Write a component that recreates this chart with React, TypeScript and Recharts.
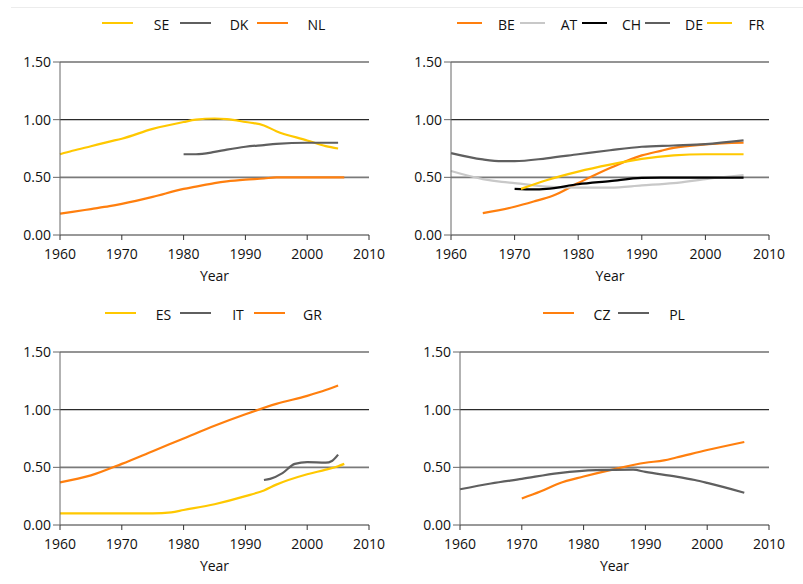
import React from 'react'
import { LineChart, Line, XAxis, YAxis, ReferenceLine, Legend } from 'recharts'

const YEAR_TICKS = [1960, 1970, 1980, 1990, 2000, 2010]
const VALUE_TICKS = [0, 0.5, 1, 1.5]

// top left: SE, DK, NL
const yearsNorth = [1960, 1962, 1965, 1968, 1970, 1975, 1980, 1982, 1985, 1987, 1990, 1993, 1995, 2000, 2003, 2005, 2006]
const seValues = [0.7, 0.73, 0.77, 0.81, 0.835, 0.92, 0.98, 1.0, 1.01, 1.005, 0.98, 0.95, 0.9, 0.82, 0.77, 0.75, null]
const dkValues = [null, null, null, null, null, null, 0.7, 0.7, 0.72, 0.74, 0.765, 0.78, 0.79, 0.8, 0.8, 0.8, null]
const nlValues = [0.185, 0.2, 0.225, 0.25, 0.27, 0.33, 0.4, 0.42, 0.45, 0.465, 0.48, 0.49, 0.5, 0.5, 0.5, 0.5, 0.5]

// top right: BE, AT, CH, DE, FR
const yearsWest = [1960, 1965, 1968, 1970, 1971, 1973, 1975, 1976, 1980, 1985, 1990, 1993, 1995, 2000, 2006]
const beValues = [null, 0.19, null, 0.245, null, 0.29, null, 0.34, 0.45, 0.58, 0.69, 0.73, 0.755, 0.785, 0.8]
const atValues = [0.555, 0.485, 0.46, 0.45, null, null, 0.42, null, 0.41, 0.41, 0.43, null, 0.45, 0.485, 0.52]
const chValues = [null, null, null, 0.4, null, 0.395, 0.4, null, 0.44, 0.467, 0.495, 0.497, 0.497, 0.497, 0.497]
const deValues = [0.71, 0.655, 0.64, 0.64, null, null, 0.665, null, 0.7, 0.735, 0.765, null, 0.776, 0.788, 0.82]
const frValues = [null, null, null, null, 0.4, null, 0.475, null, 0.55, 0.61, 0.66, null, 0.69, 0.7, 0.7]

// bottom left: ES, IT, GR
const yearsSouth = [1960, 1965, 1970, 1975, 1978, 1980, 1985, 1990, 1993, 1994, 1995, 1996, 1998, 2000, 2003, 2004, 2005, 2006]
const esValues = [0.1, 0.1, 0.1, 0.1, 0.11, 0.13, 0.18, 0.25, 0.3, null, 0.35, null, null, 0.44, 0.48, null, 0.51, 0.53]
const itValues = [null, null, null, null, null, null, null, null, 0.39, 0.4, null, 0.45, 0.53, 0.545, 0.54, 0.555, 0.61, null]
const grValues = [0.37, 0.43, 0.53, 0.64, null, 0.75, 0.86, 0.96, null, null, 1.05, null, null, 1.12, 1.17, null, 1.21, null]

// bottom right: CZ, PL
const yearsEast = [1960, 1965, 1970, 1973, 1976, 1980, 1982, 1985, 1988, 1990, 1993, 1995, 1998, 2000, 2006]
const czValues = [null, null, 0.23, 0.29, 0.36, 0.42, null, 0.485, null, 0.54, 0.56, 0.585, null, 0.65, 0.72]
const plValues = [0.31, 0.36, 0.4, null, 0.45, null, 0.476, null, 0.48, 0.46, null, 0.42, 0.39, 0.365, 0.28]

const YELLOW = '#FFC800'
const ORANGE = '#FF7F0E'
const GRAY = '#5F5F5F'
const LIGHT = '#C8C8C8'
const BLACK = '#000000'
const TEXT = '#111111'

type Series = { key: string; color: string; values: (number | null)[] }

function buildRows(years: number[], series: Series[]) {
  return years.map((year, i) => {
    const row: any = { year }
    series.forEach((s) => { row[s.key] = s.values[i] })
    return row
  })
}

type LegendCfg = { start: number; pitch: number; lineLen: number; textOffset: number }

function makeLegend(cfg: LegendCfg, width: number, order: string[]) {
  return ({ payload }: any) => {
    const items = [...(payload || [])].sort((a: any, b: any) => order.indexOf(a.value) - order.indexOf(b.value))
    return (
      <div style={{ position: 'relative', width, height: 30 }}>
        {items.map((p: any, i: number) => {
          const x = cfg.start + i * cfg.pitch
          return (
            <React.Fragment key={p.value}>
              <div style={{ position: 'absolute', left: x, top: 22, width: cfg.lineLen, height: 2, background: p.color }} />
              <div style={{
                position: 'absolute', left: x + cfg.textOffset - 20, top: 15, width: 40,
                textAlign: 'center', fontSize: 14, lineHeight: '20px', color: TEXT
              }}>{p.value}</div>
            </React.Fragment>
          )
        })}
      </div>
    )
  }
}

interface PanelProps {
  left: number
  top: number
  axisWidth: number
  years: number[]
  series: Series[]
  legend: LegendCfg
}

function Panel({ left, top, axisWidth, years, series, legend }: PanelProps) {
  const width = 400
  const data = buildRows(years, series)
  return (
    <div style={{ position: 'absolute', left, top }}>
      <LineChart width={width} height={290} data={data} margin={{ top: 62, right: 31, left: 0, bottom: 0 }}>
        <Legend
          verticalAlign="middle" align="center" layout="horizontal"
          wrapperStyle={{ top: 0, left: 0, width, height: 30, margin: 0, padding: 0 }}
          content={makeLegend(legend, width, series.map((s) => s.key))}
        />
        <XAxis
          dataKey="year" type="number" domain={[1960, 2010]} ticks={YEAR_TICKS} interval={0}
          height={55} tickSize={5} tickMargin={9} stroke="#333"
          tick={{ fill: TEXT, fontSize: 14 }}
          label={{ value: 'Year', position: 'insideBottom', offset: 9, fill: TEXT, fontSize: 14 }}
        />
        <YAxis
          type="number" domain={[0, 1.5]} ticks={VALUE_TICKS} interval={0} width={axisWidth}
          tickSize={7} tickMargin={2} stroke="#666"
          tick={{ fill: TEXT, fontSize: 14 }}
          tickFormatter={(v: number) => v.toFixed(2)}
        />
        <ReferenceLine y={1.5} stroke="#2a2a2a" strokeWidth={1.2} />
        <ReferenceLine y={1} stroke="#2a2a2a" strokeWidth={1.2} />
        <ReferenceLine y={0.5} stroke="#7a7a7a" strokeWidth={1.6} />
        {series.map((s) => (
          <Line
            key={s.key} dataKey={s.key} name={s.key} stroke={s.color} strokeWidth={2.2}
            type="monotone" dot={false} connectNulls isAnimationActive={false}
          />
        ))}
      </LineChart>
    </div>
  )
}

export default function App() {
  return (
    <div style={{
      position: 'absolute', left: 0, top: 0, width: 803, height: 584, background: '#fff',
      fontFamily: '"Open Sans", "Noto Sans", sans-serif', color: TEXT
    }}>
      <div style={{ position: 'absolute', left: 11, top: 7, width: 792, height: 1, background: '#ececec' }} />
      <Panel
        left={0} top={0} axisWidth={60} years={yearsNorth}
        series={[
          { key: 'SE', color: YELLOW, values: seValues },
          { key: 'DK', color: GRAY, values: dkValues },
          { key: 'NL', color: ORANGE, values: nlValues }
        ]}
        legend={{ start: 102, pitch: 77.5, lineLen: 31, textOffset: 59.5 }}
      />
      <Panel
        left={400} top={0} axisWidth={51} years={yearsWest}
        series={[
          { key: 'BE', color: ORANGE, values: beValues },
          { key: 'AT', color: LIGHT, values: atValues },
          { key: 'CH', color: BLACK, values: chValues },
          { key: 'DE', color: GRAY, values: deValues },
          { key: 'FR', color: YELLOW, values: frValues }
        ]}
        legend={{ start: 57, pitch: 62.5, lineLen: 25, textOffset: 49.5 }}
      />
      <Panel
        left={0} top={290} axisWidth={60} years={yearsSouth}
        series={[
          { key: 'ES', color: YELLOW, values: esValues },
          { key: 'IT', color: GRAY, values: itValues },
          { key: 'GR', color: ORANGE, values: grValues }
        ]}
        legend={{ start: 105, pitch: 74.5, lineLen: 31, textOffset: 58.5 }}
      />
      <Panel
        left={400} top={290} axisWidth={60} years={yearsEast}
        series={[
          { key: 'CZ', color: ORANGE, values: czValues },
          { key: 'PL', color: GRAY, values: plValues }
        ]}
        legend={{ start: 143, pitch: 75, lineLen: 31, textOffset: 59 }}
      />
    </div>
  )
}
